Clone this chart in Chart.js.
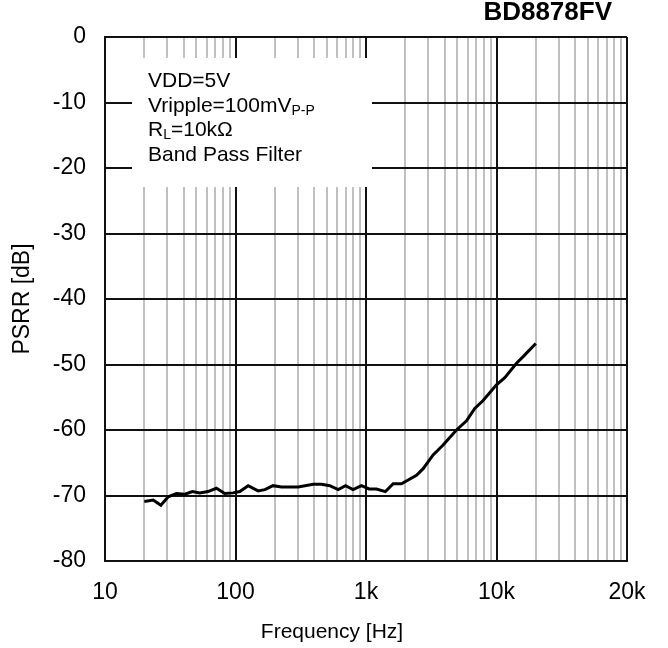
<!DOCTYPE html>
<html>
<head>
<meta charset="utf-8">
<script src="https://cdn.jsdelivr.net/npm/chart.js@4.4.1/dist/chart.umd.min.js"></script>
<style>
  html, body { margin: 0; padding: 0; background: #fff; }
  canvas { display: block; }
</style>
</head>
<body>
<canvas id="psrrChart" width="668" height="648"></canvas>
<script>
// dados
const freqHz = [20, 23.4, 26.8, 30.5, 35.3, 40.9, 46.8, 53.2, 61.6, 71.4, 82.7, 95.9,
  108, 125, 149, 168, 194, 225, 302, 394, 456, 528, 612, 697, 796, 923,
  1056, 1203, 1409, 1615, 1870, 2437, 2741, 3268, 3898, 4938, 5890, 6817,
  7894, 10000, 11580, 14230, 16000, 20000];
const psrrDb = [-70.9, -70.7, -71.5, -70.2, -69.7, -69.8, -69.4, -69.6, -69.4, -68.9, -69.7, -69.6,
  -69.4, -68.5, -69.3, -69.1, -68.5, -68.7, -68.7, -68.3, -68.3, -68.5, -69.1, -68.5, -69.1, -68.5,
  -69.0, -69.0, -69.4, -68.2, -68.2, -66.9, -65.9, -63.8, -62.3, -60.0, -58.6, -56.7,
  -55.5, -53.1, -52.0, -49.8, -48.8, -46.8];

const decades = [10, 100, 1000, 10000];
const xTickLabels = { 10: "10", 100: "100", 1000: "1k", 10000: "10k", 100000: "20k" };
const yTicks = [0, -10, -20, -30, -40, -50, -60, -70, -80];
const notes = ["VDD=5V", "Vripple=100mV", "RL=10kΩ", "Band Pass Filter"];

const FONT = "'Liberation Sans', Arial, sans-serif";

// caixa de condições + título do CI
const notesPlugin = {
  id: "notes",
  beforeDatasetsDraw(chart) {
    const ctx = chart.ctx;
    ctx.save();
    ctx.fillStyle = "#fff";
    ctx.fillRect(132, 58, 240, 129);
    ctx.fillStyle = "#000";
    ctx.textBaseline = "middle";
    ctx.textAlign = "left";
    ctx.font = "21px " + FONT;
    const x0 = 148;
    let y = 81;
    // VDD
    ctx.fillText(notes[0], x0, y);
    y += 25;
    // Vripple com subscrito P-P
    ctx.fillText(notes[1], x0, y);
    let w = ctx.measureText(notes[1]).width;
    ctx.font = "14px " + FONT;
    ctx.fillText("P-P", x0 + w, y + 5);
    y += 24;
    // R_L
    ctx.font = "21px " + FONT;
    ctx.fillText("R", x0, y);
    w = ctx.measureText("R").width;
    ctx.font = "14px " + FONT;
    ctx.fillText("L", x0 + w, y + 5);
    const w2 = ctx.measureText("L").width;
    ctx.font = "21px " + FONT;
    ctx.fillText(notes[2].slice(2), x0 + w + w2, y);
    y += 25;
    ctx.fillText(notes[3], x0, y);
    ctx.restore();
  },
  afterDraw(chart) {
    const ctx = chart.ctx;
    ctx.save();
    ctx.fillStyle = "#000";
    ctx.textBaseline = "middle";
    ctx.textAlign = "right";
    ctx.font = "bold 26px " + FONT;
    ctx.fillText("BD8878FV", 612, 13);
    ctx.textAlign = "center";
    ctx.font = "21px " + FONT;
    ctx.fillText("Frequency [Hz]", 332, 632);
    ctx.restore();
  }
};

const ctx = document.getElementById("psrrChart").getContext("2d");
new Chart(ctx, {
  type: "line",
  data: {
    datasets: [{
      data: freqHz.map((f, i) => ({ x: f, y: psrrDb[i] })),
      borderColor: "#000",
      borderWidth: 3,
      pointRadius: 0,
      tension: 0,
      fill: false
    }]
  },
  options: {
    responsive: false,
    animation: false,
    layout: { padding: { top: 37, right: 41, left: 0, bottom: 0 } },
    plugins: { legend: { display: false }, tooltip: { enabled: false } },
    scales: {
      x: {
        type: "logarithmic",
        min: 10,
        max: 100000,
        afterFit: s => { s.height = 87; },
        afterBuildTicks: s => {
          const t = [];
          decades.forEach(d => { for (let k = 1; k < 10; k++) t.push({ value: d * k }); });
          t.push({ value: 100000 });
          s.ticks = t;
        },
        ticks: {
          autoSkip: false,
          maxRotation: 0,
          padding: 18,
          color: "#000",
          font: { family: FONT, size: 23 },
          callback: v => xTickLabels[v] || ""
        },
        grid: {
          drawTicks: false,
          color: c => (xTickLabels[c.tick.value] ? "#111" : "#c0c0c0"),
          lineWidth: 2
        },
        border: { color: "#111", width: 2 }
      },
      y: {
        min: -80,
        max: 0,
        afterFit: s => { s.width = 105; },
        afterBuildTicks: s => { s.ticks = yTicks.map(v => ({ value: v })); },
        ticks: {
          padding: 19,
          color: "#000",
          font: { family: FONT, size: 23 }
        },
        grid: { drawTicks: false, color: "#111", lineWidth: 2 },
        border: { color: "#111", width: 2 },
        title: {
          display: true,
          text: "PSRR [dB]",
          color: "#000",
          font: { family: FONT, size: 23 },
          padding: { top: 9, bottom: 0 }
        }
      }
    }
  },
  plugins: [notesPlugin]
});
</script>
</body>
</html>
